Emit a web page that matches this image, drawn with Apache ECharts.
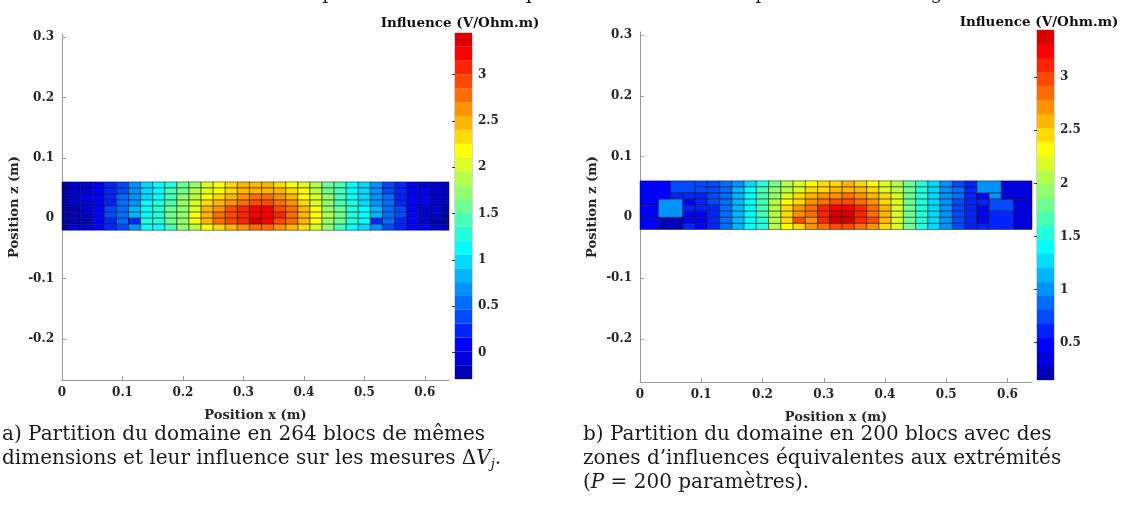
<!DOCTYPE html>
<html>
<head>
<meta charset="utf-8">
<script src="https://cdn.jsdelivr.net/npm/echarts@6/dist/echarts.min.js"></script>
<style>
  html, body { margin: 0; padding: 0; background: #fff; }
  #chart { width: 1125px; height: 525px; }
</style>
</head>
<body>
<div id="chart"></div>
<script>
// ---- data ----
// a) 264 equal blocks : 33 columns x 8 rows (half-width columns at both ends)
const xEdgesA = [0, 0.01, 0.03, 0.05, 0.07, 0.09, 0.11, 0.13, 0.15, 0.17, 0.19, 0.21, 0.23, 0.25, 0.27, 0.29, 0.31,
  0.33, 0.35, 0.37, 0.39, 0.41, 0.43, 0.45, 0.47, 0.49, 0.51, 0.53, 0.55, 0.57, 0.59, 0.61, 0.63, 0.64];
const zEdges = [-0.02, -0.01, 0, 0.01, 0.02, 0.03, 0.04, 0.05, 0.06];
// rows listed from top (z 0.05..0.06) to bottom (z -0.02..-0.01)
const influenceA = [
  [-0.16, -0.12, -0.02, 0.10, 0.27, 0.42, 0.66, 0.95, 1.10, 1.35, 1.55, 1.80, 2.00, 2.15, 2.30, 2.42, 2.50, 2.50, 2.40, 2.25, 2.08, 1.85, 1.58, 1.36, 1.15, 0.95, 0.67, 0.43, 0.27, 0.13, 0.01, -0.07, -0.12],
  [-0.15, -0.10, 0.00, 0.12, 0.30, 0.45, 0.70, 1.00, 1.15, 1.40, 1.60, 1.85, 2.05, 2.20, 2.35, 2.48, 2.55, 2.55, 2.45, 2.30, 2.12, 1.90, 1.62, 1.40, 1.18, 0.98, 0.70, 0.46, 0.30, 0.15, 0.03, -0.05, -0.10],
  [-0.14, -0.10, 0.02, 0.14, 0.31, 0.47, 0.73, 1.05, 1.20, 1.45, 1.66, 1.95, 2.18, 2.35, 2.52, 2.68, 2.76, 2.74, 2.62, 2.45, 2.25, 1.98, 1.68, 1.44, 1.20, 1.00, 0.72, 0.47, 0.30, 0.15, 0.03, -0.06, -0.11],
  [-0.15, -0.13, -0.02, 0.12, 0.31, 0.48, 0.75, 1.10, 1.24, 1.48, 1.70, 2.00, 2.28, 2.48, 2.64, 2.82, 2.92, 2.90, 2.74, 2.56, 2.34, 2.05, 1.72, 1.48, 1.23, 1.04, 0.74, 0.48, 0.31, 0.14, 0.02, -0.08, -0.12],
  [-0.16, -0.15, -0.04, 0.12, 0.32, 0.50, 0.78, 1.18, 1.30, 1.52, 1.75, 2.10, 2.45, 2.70, 2.88, 3.10, 3.22, 3.20, 2.96, 2.75, 2.50, 2.15, 1.80, 1.52, 1.26, 1.08, 0.77, 0.50, 0.32, 0.14, 0.00, -0.10, -0.14],
  [-0.17, -0.18, -0.05, 0.12, 0.32, 0.50, 0.80, 1.20, 1.32, 1.55, 1.78, 2.15, 2.50, 2.75, 2.92, 3.15, 3.30, 3.25, 3.02, 2.80, 2.55, 2.20, 1.82, 1.55, 1.28, 1.10, 0.78, 0.50, 0.32, 0.14, 0.00, -0.12, -0.15],
  [-0.17, -0.20, -0.18, 0.10, 0.30, 0.48, 0.25, 1.22, 1.30, 1.52, 1.75, 2.15, 2.48, 2.72, 2.92, 3.12, 3.32, 3.28, 3.00, 2.78, 2.52, 2.18, 1.80, 1.52, 1.25, 1.12, 0.30, 0.48, 0.30, 0.12, -0.02, -0.14, -0.16],
  [-0.15, -0.12, 0.00, 0.12, 0.30, 0.46, 0.72, 1.08, 1.20, 1.45, 1.66, 1.95, 2.20, 2.40, 2.55, 2.70, 2.80, 2.78, 2.64, 2.48, 2.28, 2.00, 1.68, 1.45, 1.20, 1.02, 0.72, 0.46, 0.30, 0.14, 0.02, -0.06, -0.11]
];

// b) 200 blocks : regular middle part + merged zones at both ends
const xEdgesB = [0.09, 0.11, 0.13, 0.15, 0.17, 0.19, 0.21, 0.23, 0.25, 0.27, 0.29, 0.31, 0.33, 0.35, 0.37, 0.39,
  0.41, 0.43, 0.45, 0.47, 0.49, 0.51, 0.53, 0.55];
const influenceB = [
  [0.72, 0.74, 0.86, 1.06, 1.30, 1.55, 1.85, 2.05, 2.20, 2.35, 2.45, 2.52, 2.55, 2.50, 2.38, 2.20, 2.00, 1.76, 1.48, 1.27, 1.02, 0.80, 0.60],
  [0.70, 0.75, 0.90, 1.10, 1.35, 1.60, 1.90, 2.10, 2.25, 2.40, 2.50, 2.58, 2.60, 2.55, 2.42, 2.25, 2.05, 1.80, 1.52, 1.30, 1.05, 0.82, 0.62],
  [0.66, 0.74, 0.92, 1.14, 1.38, 1.64, 1.98, 2.22, 2.40, 2.56, 2.68, 2.78, 2.80, 2.74, 2.60, 2.40, 2.15, 1.86, 1.55, 1.32, 1.06, 0.82, 0.58],
  [0.60, 0.70, 0.88, 1.14, 1.38, 1.62, 2.02, 2.30, 2.50, 2.68, 2.82, 2.95, 2.96, 2.85, 2.68, 2.45, 2.18, 1.84, 1.52, 1.28, 1.03, 0.80, 0.55],
  [0.55, 0.66, 0.86, 1.15, 1.40, 1.60, 2.08, 2.42, 2.66, 2.85, 3.05, 3.24, 3.26, 3.05, 2.85, 2.56, 2.22, 1.84, 1.50, 1.25, 1.00, 0.76, 0.58],
  [0.50, 0.62, 0.85, 1.16, 1.42, 1.62, 2.10, 2.45, 2.72, 2.90, 3.10, 3.32, 3.34, 3.12, 2.90, 2.60, 2.25, 1.85, 1.50, 1.26, 1.00, 0.78, 0.60],
  [0.48, 0.58, 0.84, 1.18, 1.42, 1.58, 2.12, 2.48, 2.95, 2.78, 3.12, 3.36, 3.38, 3.14, 2.92, 2.60, 2.22, 1.82, 1.48, 1.24, 0.98, 0.74, 0.56],
  [0.52, 0.62, 0.84, 1.12, 1.36, 1.58, 2.00, 2.30, 2.52, 2.70, 2.85, 3.00, 3.00, 2.88, 2.70, 2.45, 2.15, 1.80, 1.50, 1.26, 1.02, 0.78, 0.58]
];
// [x0, x1, z0, z1, influence] - later blocks are drawn over earlier ones
const endBlocksB = [
  [0, 0.05, 0.02, 0.06, 0.48],
  [0, 0.03, -0.02, 0.0, 0.42],
  [0, 0.03, 0.0, 0.02, 0.45],
  [0.03, 0.07, -0.02, 0, 0.26],
  [0.05, 0.09, 0.04, 0.06, 0.80],
  [0.05, 0.07, 0.03, 0.04, 0.60],
  [0.03, 0.07, 0, 0.03, 1.04],
  [0.07, 0.09, -0.02, -0.01, 0.62],
  [0.07, 0.09, -0.01, 0, 0.50],
  [0.07, 0.09, 0, 0.01, 0.45],
  [0.07, 0.09, 0.01, 0.02, 0.55],
  [0.07, 0.09, 0.02, 0.03, 0.50],
  [0.07, 0.09, 0.03, 0.04, 0.62],
  [0.55, 0.57, -0.02, -0.01, 0.55],
  [0.55, 0.57, -0.01, 0, 0.50],
  [0.55, 0.57, 0, 0.01, 0.45],
  [0.55, 0.57, 0.01, 0.02, 0.52],
  [0.55, 0.57, 0.02, 0.03, 0.56],
  [0.55, 0.57, 0.03, 0.04, 0.45],
  [0.55, 0.59, 0.04, 0.06, 1.00],
  [0.57, 0.59, 0.03, 0.04, 1.00],
  [0.57, 0.61, 0.01, 0.03, 0.72],
  [0.57, 0.61, -0.02, 0.01, 0.55],
  [0.59, 0.64, 0.03, 0.06, 0.30],
  [0.61, 0.64, -0.02, 0.03, 0.38]
];

const rangeA = [-0.284, 3.45];
const rangeB = [0.149, 3.445];
const xTicks = [0, 0.1, 0.2, 0.3, 0.4, 0.5, 0.6];
const zTicks = [-0.2, -0.1, 0, 0.1, 0.2, 0.3];
const cbTicksA = [0, 0.5, 1, 1.5, 2, 2.5, 3];
const cbTicksB = [0.5, 1, 1.5, 2, 2.5, 3];
const nColors = 25;

// ---- matlab jet colormap ----
function jet(m) {
  const n = Math.ceil(m / 4);
  const u = [];
  for (let i = 1; i <= n; i++) u.push(i / n);
  for (let i = 1; i < n; i++) u.push(1);
  for (let i = n; i >= 1; i--) u.push(i / n);
  const g0 = Math.ceil(n / 2) - (m % 4 === 1 ? 1 : 0);
  const J = [];
  for (let i = 0; i < m; i++) J.push([0, 0, 0]);
  u.forEach((val, i) => {
    const g = g0 + i + 1, r = g + n, b = g - n;
    if (r >= 1 && r <= m) J[r - 1][0] = val;
    if (g >= 1 && g <= m) J[g - 1][1] = val;
    if (b >= 1 && b <= m) J[b - 1][2] = val;
  });
  return J.map(c => 'rgb(' + c.map(v => Math.round(v * 255)).join(',') + ')');
}
const jetColors = jet(nColors);

function colorOf(v, range) {
  const t = (v - range[0]) / (range[1] - range[0]);
  const idx = Math.max(0, Math.min(nColors - 1, Math.floor(t * nColors)));
  return jetColors[idx];
}

function gridCells(xEdges, rows) {
  const out = [];
  rows.forEach((row, r) => {
    const z1 = zEdges[zEdges.length - 1 - r], z0 = zEdges[zEdges.length - 2 - r];
    row.forEach((v, c) => out.push([xEdges[c], xEdges[c + 1], z0, z1, v]));
  });
  return out;
}

function colorbarCells(range) {
  const out = [];
  const step = (range[1] - range[0]) / nColors;
  for (let i = 0; i < nColors; i++) {
    const lo = range[0] + i * step;
    out.push([0, 1, lo, lo + step, lo + step / 2]);
  }
  return out;
}

function blockRenderer(range, stroke) {
  return function (params, api) {
    const p0 = api.coord([api.value(0), api.value(3)]);
    const p1 = api.coord([api.value(1), api.value(2)]);
    return {
      type: 'rect',
      shape: { x: p0[0], y: p0[1], width: p1[0] - p0[0], height: p1[1] - p0[1] },
      style: {
        fill: colorOf(api.value(4), range),
        stroke: stroke ? 'rgba(15,15,15,0.7)' : null,
        lineWidth: stroke ? 0.7 : 0
      }
    };
  };
}

const dataA = gridCells(xEdgesA, influenceA);
const dataB = gridCells(xEdgesB, influenceB).concat(endBlocksB);

// ---- styling helpers ----
const font = 'DejaVu Serif';
const axisGray = '#9a9a9a';
const textDark = '#262626';

function fmt(v) { return String(+v.toFixed(2)); }

function xAxisOf(gridIndex) {
  return {
    type: 'value', gridIndex: gridIndex, min: 0, max: 0.64,
    name: 'Position x (m)', nameLocation: 'middle', nameGap: 29,
    nameTextStyle: { fontFamily: font, fontWeight: 'bold', fontSize: 13, color: textDark },
    axisLine: { show: true, onZero: false, lineStyle: { color: axisGray, width: 1 } },
    axisTick: { show: true, inside: true, length: 4, customValues: xTicks, lineStyle: { color: axisGray } },
    axisLabel: { customValues: xTicks, formatter: fmt, margin: 7, fontFamily: font, fontWeight: 'bold', fontSize: 12, color: textDark },
    splitLine: { show: false }
  };
}

function yAxisOf(gridIndex, min, max) {
  return {
    type: 'value', gridIndex: gridIndex, min: min, max: max,
    name: 'Position z (m)', nameLocation: 'middle', nameGap: 41, nameRotate: 90,
    nameTextStyle: { fontFamily: font, fontWeight: 'bold', fontSize: 13, color: textDark },
    axisLine: { show: true, onZero: false, lineStyle: { color: axisGray, width: 1 } },
    axisTick: { show: true, inside: true, length: 4, customValues: zTicks, lineStyle: { color: axisGray } },
    axisLabel: { customValues: zTicks, formatter: fmt, margin: 8, fontFamily: font, fontWeight: 'bold', fontSize: 12, color: textDark },
    splitLine: { show: false }
  };
}

function cbXAxis(gridIndex) {
  return { type: 'value', gridIndex: gridIndex, min: 0, max: 1, show: false };
}

function cbYAxis(gridIndex, range, ticks) {
  return {
    type: 'value', gridIndex: gridIndex, min: range[0], max: range[1], position: 'right',
    axisLine: { show: false },
    axisTick: { show: true, inside: true, length: 3, customValues: ticks, lineStyle: { color: '#333' } },
    axisLabel: { customValues: ticks, formatter: fmt, margin: 6, fontFamily: font, fontWeight: 'bold', fontSize: 12, color: textDark },
    splitLine: { show: false }
  };
}

const titleStyle = { fontFamily: font, fontWeight: 'bold', fontSize: 13.5, color: '#111' };
const capStyle = {
  fontFamily: font, fontWeight: 'normal', fontSize: 20, color: '#1a1a1a', lineHeight: 24,
  rich: {
    it: { fontFamily: font, fontStyle: 'italic', fontSize: 20, lineHeight: 24, color: '#1a1a1a' },
    sub: { fontFamily: font, fontStyle: 'italic', fontSize: 13, lineHeight: 24, verticalAlign: 'bottom', color: '#1a1a1a' }
  }
};

const chart = echarts.init(document.getElementById('chart'), null, { renderer: 'canvas' });

chart.setOption({
  animation: false,
  backgroundColor: '#fff',
  title: [
    { text: 'une fonction seuil. Cette courbe pour les deux cas de partitions des blocs est présentée sur la figure.', left: 2, top: -20,
      textStyle: { fontFamily: font, fontWeight: 'normal', fontSize: 19, color: '#1a1a1a' } },
    { text: 'Influence (V/Ohm.m)', left: 455, top: 11, textAlign: 'center', textStyle: titleStyle },
    { text: 'Influence (V/Ohm.m)', left: 1034, top: 10, textAlign: 'center', textStyle: titleStyle },
    { text: 'a) Partition du domaine en 264 blocs de mêmes\ndimensions et leur influence sur les mesures Δ{it|V}{sub|j}.',
      left: -3, top: 418, textStyle: capStyle },
    { text: 'b) Partition du domaine en 200 blocs avec des\nzones d’influences équivalentes aux extrémités\n({it|P} = 200 paramètres).',
      left: 578, top: 418, textStyle: capStyle }
  ],
  grid: [
    { left: 62, top: 34, width: 387, height: 346 },
    { left: 455, top: 33, width: 17, height: 346, show: true, borderColor: '#a8a8a8', borderWidth: 1 },
    { left: 640, top: 32, width: 392, height: 350 },
    { left: 1037, top: 30, width: 17, height: 350, show: true, borderColor: '#a8a8a8', borderWidth: 1 }
  ],
  xAxis: [xAxisOf(0), cbXAxis(1), xAxisOf(2), cbXAxis(3)],
  yAxis: [
    yAxisOf(0, -0.268, 0.305),
    cbYAxis(1, rangeA, cbTicksA),
    yAxisOf(2, -0.271, 0.305),
    cbYAxis(3, rangeB, cbTicksB)
  ],
  series: [
    { type: 'custom', xAxisIndex: 0, yAxisIndex: 0, renderItem: blockRenderer(rangeA, true),
      encode: { x: [0, 1], y: [2, 3] }, data: dataA },
    { type: 'custom', xAxisIndex: 1, yAxisIndex: 1, renderItem: blockRenderer(rangeA, false),
      encode: { x: [0, 1], y: [2, 3] }, data: colorbarCells(rangeA) },
    { type: 'custom', xAxisIndex: 2, yAxisIndex: 2, renderItem: blockRenderer(rangeB, true),
      encode: { x: [0, 1], y: [2, 3] }, data: dataB },
    { type: 'custom', xAxisIndex: 3, yAxisIndex: 3, renderItem: blockRenderer(rangeB, false),
      encode: { x: [0, 1], y: [2, 3] }, data: colorbarCells(rangeB) }
  ]
});
</script>
</body>
</html>
